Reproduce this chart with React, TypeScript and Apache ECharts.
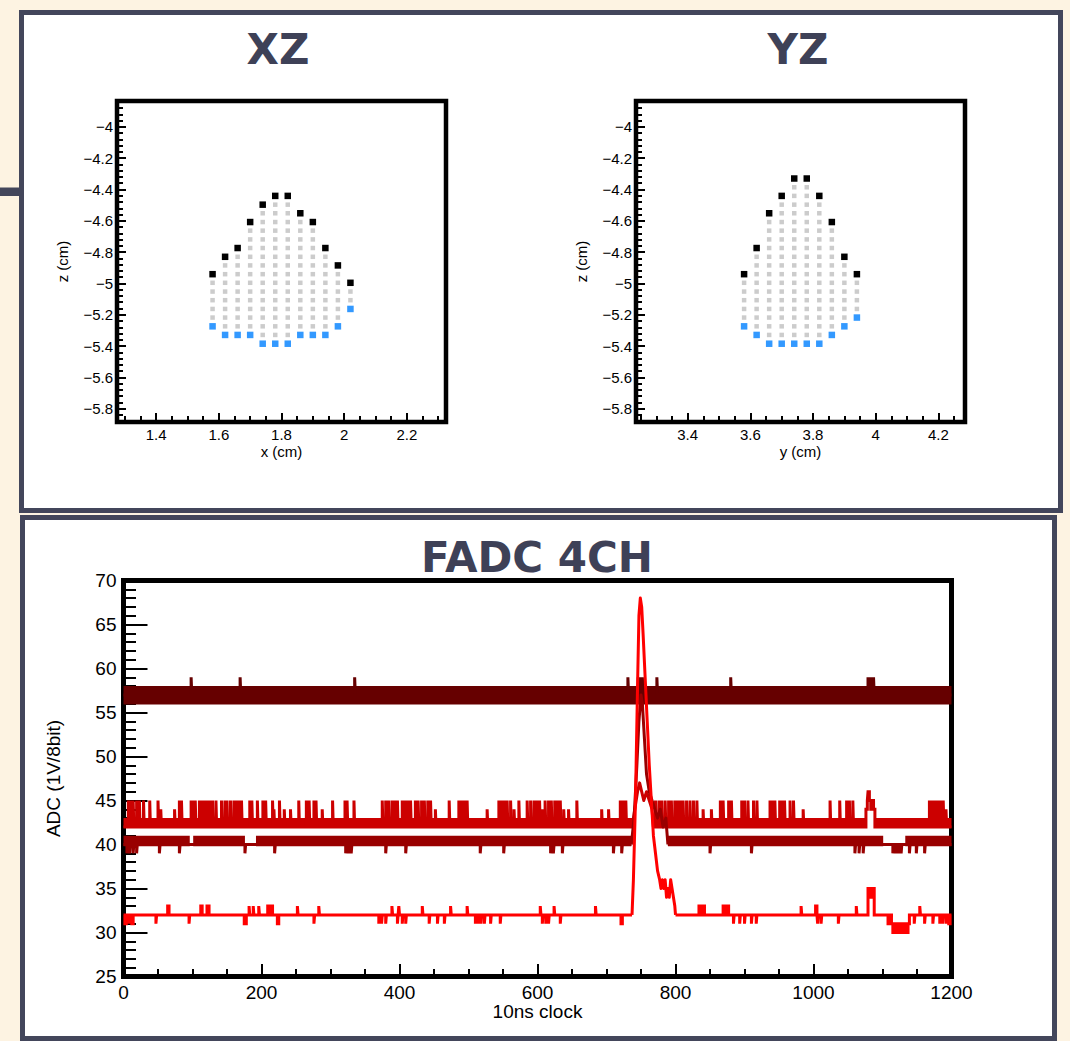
import { useEffect, useRef } from 'react';
import * as echarts from 'echarts';

const BORDER = '#43465b';
const TITLE_COLOR = '#3e4157';
const PAGE_BG = '#fdf3e2';
const TICK_FONT = '"Liberation Sans", Arial, Helvetica, sans-serif';
const TITLE_FONT = 'bold 42px "DejaVu Sans", sans-serif';

// ---------------- hit maps ----------------
// z (cm) of each drift row, shared by both projections
const Z_ROWS = [
  -4.330, -4.386, -4.441, -4.497, -4.552, -4.608, -4.663, -4.719, -4.774, -4.830,
  -4.885, -4.941, -4.996, -5.052, -5.107, -5.163, -5.218, -5.274, -5.329, -5.385,
];

// Each strip: [strip position (cm), first hit row index, last hit row index]
const XZ_STRIPS = [
  [1.58, 11, 17], [1.62, 9, 18], [1.66, 8, 18], [1.70, 5, 18], [1.74, 3, 19], [1.78, 2, 19],
  [1.82, 2, 19], [1.86, 4, 18], [1.90, 5, 18], [1.94, 8, 18], [1.98, 10, 17], [2.02, 12, 15],
];
const YZ_STRIPS = [
  [3.58, 11, 17], [3.62, 8, 18], [3.66, 4, 19], [3.70, 2, 19], [3.74, 0, 19],
  [3.78, 0, 19], [3.82, 2, 19], [3.86, 5, 18], [3.90, 9, 17], [3.94, 11, 16],
];

const XZ_X_RANGE = [1.275, 2.325];
const YZ_Y_RANGE = [3.235, 4.285];
const Z_RANGE = [-5.885, -3.835];
const XZ_X_TICKS = [1.4, 1.6, 1.8, 2, 2.2];
const YZ_Y_TICKS = [3.4, 3.6, 3.8, 4, 4.2];
const Z_TICKS = [-5.8, -5.6, -5.4, -5.2, -5, -4.8, -4.6, -4.4, -4.2, -4];

// ---------------- FADC waveforms ----------------
const CLOCK_RANGE = [0, 1200];
const ADC_RANGE = [25, 70];

const CH1_COLOR = '#660000';
const CH2_COLOR = '#cc0000';
const CH3_COLOR = '#990000';
const CH4_COLOR = '#ff0000';

// baseline levels (ADC counts)
const CH1_BASE = 57;
const CH2_BASE = 42;
const CH3_BASE = 40;
const CH4_BASE = 32;

// fast pedestal noise envelopes: [from clock, to clock, low ADC, high ADC]
const CH1_BANDS = [[0, 1200, 55.9, 58.0]];
const CH2_BANDS = [[0, 737, 41.9, 43.0], [768, 1076, 41.9, 43.0], [1089, 1200, 41.9, 43.0]];
const CH3_BANDS = [[0, 96, 39.8, 41.0], [101, 176, 39.8, 41.0], [192, 736, 39.8, 41.0], [789, 1101, 39.8, 41.0], [1133, 1200, 39.8, 41.0]];

// single-sample excursions: [clock, ADC, length in clocks (default 1)]
const CH1_SPIKES = [
  [98, 59], [169, 59], [335, 59], [731, 59], [746, 59], [749, 59], [752, 59], [773, 59], [880, 59],
  [1079, 59], [1081, 59], [1083, 59], [1085, 59], [1087, 59],
];
const CH2_SPIKES = [
  [7, 45], [10, 45], [14, 45], [19, 45], [23, 45], [29, 45], [38, 45], [50, 45], [54, 44], [74, 44], [81, 45], [84, 45],
  [98, 45], [101, 45], [104, 45], [110, 45], [113, 45], [116, 45], [119, 45], [122, 45], [126, 45], [129, 45], [134, 45],
  [142, 45], [147, 45], [150, 45], [155, 45], [160, 45], [163, 45], [167, 45], [171, 45], [183, 45], [186, 45], [194, 45],
  [202, 45], [206, 45], [216, 45], [218, 44], [226, 45], [233, 44], [242, 44], [254, 45], [265, 45], [269, 45], [276, 45],
  [279, 45], [288, 44], [303, 45], [321, 45], [324, 45], [334, 45], [375, 45], [380, 45], [384, 45], [389, 45], [393, 45],
  [397, 45], [404, 45], [408, 45], [412, 45], [416, 45], [423, 45], [427, 45], [432, 45], [436, 45], [441, 45], [445, 45],
  [452, 44], [472, 45], [486, 45], [490, 45], [494, 45], [498, 45], [527, 44], [544, 45], [548, 45], [552, 45], [556, 45],
  [561, 45], [566, 44], [573, 45], [585, 45], [590, 45], [595, 45], [599, 45], [603, 45], [607, 44], [611, 45], [616, 45],
  [620, 45], [625, 45], [629, 45], [633, 45], [638, 44], [645, 44], [657, 45], [693, 44], [703, 44], [720, 45], [724, 45],
  [728, 45],
  [771, 45], [776, 45], [780, 45], [785, 45], [790, 45], [794, 45], [799, 45], [803, 45], [807, 45], [811, 45], [816, 45],
  [821, 45], [826, 45], [831, 45], [840, 44], [852, 44], [865, 45], [869, 45], [877, 45], [881, 45], [896, 45], [900, 45],
  [905, 45], [913, 45], [918, 45], [937, 45], [941, 45], [944, 45], [951, 45], [955, 45], [958, 45], [966, 45], [971, 45],
  [985, 44], [1024, 45], [1038, 45], [1048, 45], [1052, 45], [1057, 45],
  [1076, 44, 2], [1078, 45, 1], [1079, 46, 2], [1081, 45, 2], [1083, 44, 2], [1085, 45, 2], [1087, 44, 2],
  [1168, 45], [1172, 45], [1176, 45], [1180, 45], [1184, 45], [1188, 45], [1192, 44],
];
const CH3_SPIKES = [
  [5, 39], [9, 39], [14, 39], [19, 39], [52, 39], [81, 39], [176, 39], [219, 39], [322, 39], [326, 39], [330, 39],
  [380, 39], [409, 39], [517, 39], [551, 39], [619, 39], [623, 39], [636, 39], [710, 39], [722, 39], [850, 39],
  [910, 39], [1060, 39], [1066, 39], [1072, 39], [1115, 39], [1119, 39], [1123, 39], [1127, 39], [1139, 39],
  [1149, 39], [1161, 39],
];
const CH4_SPIKES = [
  [2, 31, 2], [8, 31], [12, 31, 2], [47, 31], [64, 33, 2], [95, 31], [112, 33, 2], [121, 33, 3], [175, 31, 3],
  [182, 33], [188, 33], [196, 33], [209, 33, 2], [214, 33, 2], [223, 31, 2], [252, 33], [276, 31], [283, 33],
  [370, 31], [374, 31], [380, 31], [389, 33], [397, 31], [399, 33], [404, 31], [409, 31], [433, 33], [443, 31],
  [455, 31], [465, 31], [474, 33], [498, 33], [510, 31], [514, 31], [518, 31], [523, 31], [532, 31], [546, 31],
  [604, 33], [607, 31], [612, 31], [616, 31], [624, 33], [633, 31], [684, 33], [721, 31, 2],
  [834, 33, 2], [840, 33, 2], [869, 33, 2], [875, 33, 2], [884, 31], [893, 31], [900, 31], [910, 31], [917, 31],
  [982, 33], [1003, 33, 2], [1006, 31], [1011, 31], [1036, 31], [1062, 33], [1079, 35, 3], [1082, 34, 2],
  [1084, 35, 4], [1108, 31, 3], [1113, 31, 2], [1115, 30, 2], [1117, 31, 2], [1119, 30, 3], [1122, 31, 2],
  [1124, 30, 3], [1127, 31, 2], [1129, 30, 3], [1132, 31, 2], [1134, 30, 3], [1137, 31, 2], [1146, 31],
  [1154, 33], [1161, 31], [1173, 31], [1183, 31], [1187, 31], [1192, 31], [1196, 31, 2],
];

// signal pulses: [clock, ADC]
const CH2_PULSE = [
  [737, 42], [741, 44], [745, 46], [748, 47], [751, 46], [754, 45], [758, 46], [762, 45], [766, 44], [768, 42],
];
const CH3_PULSE = [
  [736, 40], [740, 43], [744, 49], [747, 54], [750, 57], [752, 56], [755, 52], [758, 48], [762, 46], [766, 45],
  [770, 44], [774, 43], [778, 44], [782, 42], [786, 43], [789, 40],
];
const CH4_PULSE = [
  [737, 32], [739, 36], [742, 45], [745, 58], [747, 66], [749, 68], [751, 67], [753, 64], [756, 59], [759, 54],
  [762, 49], [765, 45], [768, 41], [771, 39], [774, 37], [777, 36], [779, 35], [781, 36], [783, 35], [785, 36],
  [787, 34], [789, 35], [791, 34], [793, 36], [795, 35], [797, 34], [799, 33], [800, 32],
];

// ---------------- helpers ----------------
const fmt = (v: number) => String(+Number(v).toFixed(2)).replace('-', '\u2212');

function minorTicks(lo: number, hi: number, step: number, majors: number[]) {
  const out: number[] = [];
  const n0 = Math.ceil(lo / step - 1e-6);
  const n1 = Math.floor(hi / step + 1e-6);
  for (let n = n0; n <= n1; n++) {
    const v = +(n * step).toFixed(4);
    if (!majors.some((m) => Math.abs(m - v) < 1e-6)) out.push(v);
  }
  return out;
}

function hitPoints(strips: number[][]) {
  const top: number[][] = [];
  const bottom: number[][] = [];
  const inner: number[][] = [];
  strips.forEach(([pos, r0, r1]) => {
    top.push([pos, Z_ROWS[r0]]);
    bottom.push([pos, Z_ROWS[r1]]);
    for (let r = r0 + 1; r < r1; r++) inner.push([pos, Z_ROWS[r]]);
  });
  return { top, bottom, inner };
}

// step line (value held from each point to the next) between two clocks
function stepData(base: number, spikes: number[][], from: number, to: number) {
  const list = spikes.filter((s) => s[0] >= from && s[0] < to).sort((a, b) => a[0] - b[0]);
  const pts: number[][] = [[from, base]];
  list.forEach((s, i) => {
    const [c, v, w = 1] = s;
    pts.push([c, v]);
    const next = list[i + 1];
    if (!next || next[0] !== c + w) pts.push([c + w, base]);
  });
  pts.push([to, base]);
  return pts;
}

function majorAxis(dim: 'x' | 'y', grid: number, range: number[], ticks: number[], name: string) {
  return {
    gridIndex: grid,
    type: 'value',
    min: range[0],
    max: range[1],
    position: dim === 'x' ? 'bottom' : 'left',
    axisLine: { show: false, onZero: false },
    splitLine: { show: false },
    axisTick: { show: true, inside: true, length: 9, customValues: ticks, lineStyle: { color: '#000', width: 2 } },
    axisLabel: {
      show: true, customValues: ticks, formatter: fmt, color: '#000', fontSize: 15,
      fontFamily: TICK_FONT, margin: dim === 'x' ? 5 : 4,
    },
    name,
    nameLocation: 'middle',
    nameGap: dim === 'x' ? 22 : 47,
    nameMoveOverlap: false,
    nameTextStyle: { color: '#000', fontSize: 15, fontFamily: TICK_FONT },
  };
}

function minorAxis(dim: 'x' | 'y', grid: number, range: number[], ticks: number[]) {
  return {
    gridIndex: grid,
    type: 'value',
    min: range[0],
    max: range[1],
    position: dim === 'x' ? 'bottom' : 'left',
    axisLine: { show: false, onZero: false },
    splitLine: { show: false },
    axisTick: { show: true, inside: true, length: 6, customValues: ticks, lineStyle: { color: '#000', width: 2 } },
    axisLabel: { show: false },
  };
}

function hitSeries(strips: number[][], axis: number) {
  const { top, bottom, inner } = hitPoints(strips);
  const base = { type: 'scatter', xAxisIndex: axis, yAxisIndex: axis, symbol: 'rect', silent: true };
  return [
    { ...base, data: inner, symbolSize: 4.5, itemStyle: { color: '#cccccc', opacity: 1 } },
    { ...base, data: top, symbolSize: 6.5, itemStyle: { color: '#000000', opacity: 1 } },
    { ...base, data: bottom, symbolSize: 6.5, itemStyle: { color: '#3399ff', opacity: 1 } },
  ];
}

const FADC_AXIS = 4;

function bandSeries(color: string, bands: number[][]) {
  return {
    type: 'custom',
    xAxisIndex: FADC_AXIS,
    yAxisIndex: FADC_AXIS,
    silent: true,
    clip: true,
    data: bands,
    encode: { x: [0, 1], y: [2, 3] },
    renderItem: (_p: any, api: any) => {
      const a = api.coord([api.value(0), api.value(3)]);
      const b = api.coord([api.value(1), api.value(2)]);
      return {
        type: 'rect',
        shape: { x: a[0], y: a[1], width: b[0] - a[0], height: b[1] - a[1] },
        style: { fill: color },
      };
    },
  };
}

function lineSeries(color: string, data: number[][], step: boolean) {
  return {
    type: 'line',
    xAxisIndex: FADC_AXIS,
    yAxisIndex: FADC_AXIS,
    data,
    step: step ? 'end' : false,
    showSymbol: false,
    silent: true,
    clip: true,
    lineStyle: { color, width: 3, join: step ? 'miter' : 'round' },
  };
}

function channelSeries(color: string, base: number, bands: number[][], spikes: number[][], pulse: number[][] | null) {
  const out: any[] = [];
  if (bands.length) out.push(bandSeries(color, bands));
  const windows = pulse
    ? [[CLOCK_RANGE[0], pulse[0][0]], [pulse[pulse.length - 1][0], CLOCK_RANGE[1]]]
    : [CLOCK_RANGE];
  windows.forEach(([a, b]) => out.push(lineSeries(color, stepData(base, spikes, a, b), true)));
  if (pulse) out.push(lineSeries(color, pulse, false));
  return out;
}

function buildOption() {
  const gridBase = {
    show: true, borderColor: '#000', backgroundColor: 'transparent', containLabel: false, outerBoundsMode: 'none',
  };
  return {
    animation: false,
    backgroundColor: PAGE_BG,
    grid: [
      { ...gridBase, borderWidth: 4.5, left: 117, top: 101, width: 329, height: 321 },
      { ...gridBase, borderWidth: 4.5, left: 636, top: 101, width: 329, height: 321 },
      { ...gridBase, borderWidth: 5, left: 123.5, top: 580.5, width: 828, height: 396 },
    ],
    xAxis: [
      majorAxis('x', 0, XZ_X_RANGE, XZ_X_TICKS, 'x (cm)'),
      minorAxis('x', 0, XZ_X_RANGE, minorTicks(XZ_X_RANGE[0], XZ_X_RANGE[1], 0.05, XZ_X_TICKS)),
      majorAxis('x', 1, YZ_Y_RANGE, YZ_Y_TICKS, 'y (cm)'),
      minorAxis('x', 1, YZ_Y_RANGE, minorTicks(YZ_Y_RANGE[0], YZ_Y_RANGE[1], 0.05, YZ_Y_TICKS)),
      {
        gridIndex: 2, type: 'value', min: CLOCK_RANGE[0], max: CLOCK_RANGE[1], interval: 200, position: 'bottom',
        axisLine: { show: false, onZero: false },
        splitLine: { show: false },
        axisTick: { show: true, inside: true, length: 12.5, lineStyle: { color: '#000', width: 2 } },
        minorTick: { show: true, splitNumber: 4, length: 7.5, lineStyle: { color: '#000', width: 2 } },
        axisLabel: { color: '#000', fontSize: 19, fontFamily: TICK_FONT, margin: 6, formatter: (v: number) => String(v) },
        name: '10ns clock', nameLocation: 'middle', nameGap: 25, nameMoveOverlap: false,
        nameTextStyle: { color: '#000', fontSize: 19, fontFamily: TICK_FONT },
      },
    ],
    yAxis: [
      majorAxis('y', 0, Z_RANGE, Z_TICKS, 'z (cm)'),
      minorAxis('y', 0, Z_RANGE, minorTicks(Z_RANGE[0], Z_RANGE[1], 0.04, Z_TICKS)),
      majorAxis('y', 1, Z_RANGE, Z_TICKS, 'z (cm)'),
      minorAxis('y', 1, Z_RANGE, minorTicks(Z_RANGE[0], Z_RANGE[1], 0.04, Z_TICKS)),
      {
        gridIndex: 2, type: 'value', min: ADC_RANGE[0], max: ADC_RANGE[1], interval: 5, position: 'left',
        axisLine: { show: false, onZero: false },
        splitLine: { show: false },
        axisTick: { show: true, inside: true, length: 24, lineStyle: { color: '#000', width: 2 } },
        minorTick: { show: true, splitNumber: 5, length: 12.5, lineStyle: { color: '#000', width: 2 } },
        axisLabel: { color: '#000', fontSize: 19, fontFamily: TICK_FONT, margin: 7, formatter: (v: number) => String(v) },
        name: 'ADC (1V/8bit)', nameLocation: 'middle', nameGap: 61, nameMoveOverlap: false,
        nameTextStyle: { color: '#000', fontSize: 19, fontFamily: TICK_FONT },
      },
    ],
    series: [
      ...hitSeries(XZ_STRIPS, 0),
      ...hitSeries(YZ_STRIPS, 2),
      ...channelSeries(CH1_COLOR, CH1_BASE, CH1_BANDS, CH1_SPIKES, null),
      ...channelSeries(CH2_COLOR, CH2_BASE, CH2_BANDS, CH2_SPIKES, CH2_PULSE),
      ...channelSeries(CH3_COLOR, CH3_BASE, CH3_BANDS, CH3_SPIKES, CH3_PULSE),
      ...channelSeries(CH4_COLOR, CH4_BASE, [], CH4_SPIKES, CH4_PULSE),
    ],
    graphic: [
      { type: 'rect', z: -10, silent: true, shape: { x: 0, y: 187.5, width: 20, height: 8.5 }, style: { fill: BORDER } },
      { type: 'rect', z: -10, silent: true, shape: { x: 21.5, y: 12.5, width: 1039, height: 498 }, style: { fill: '#ffffff', stroke: BORDER, lineWidth: 5 } },
      { type: 'rect', z: -10, silent: true, shape: { x: 22.5, y: 517.5, width: 1032, height: 521 }, style: { fill: '#ffffff', stroke: BORDER, lineWidth: 5 } },
      { type: 'text', z: 10, silent: true, x: 278, y: 49, style: { text: 'XZ', fill: TITLE_COLOR, font: TITLE_FONT, textAlign: 'center', textVerticalAlign: 'middle' } },
      { type: 'text', z: 10, silent: true, x: 798, y: 49, style: { text: 'YZ', fill: TITLE_COLOR, font: TITLE_FONT, textAlign: 'center', textVerticalAlign: 'middle' } },
      { type: 'text', z: 10, silent: true, x: 537, y: 557, style: { text: 'FADC 4CH', fill: TITLE_COLOR, font: TITLE_FONT, textAlign: 'center', textVerticalAlign: 'middle' } },
    ],
  };
}

export default function App() {
  const ref = useRef<HTMLDivElement>(null);
  useEffect(() => {
    if (!ref.current) return;
    const chart = echarts.init(ref.current, null, { renderer: 'svg', width: 1070, height: 1041 });
    chart.setOption(buildOption() as any);
    return () => chart.dispose();
  }, []);
  return <div ref={ref} style={{ position: 'absolute', left: 0, top: 0, width: 1070, height: 1041 }} />;
}
